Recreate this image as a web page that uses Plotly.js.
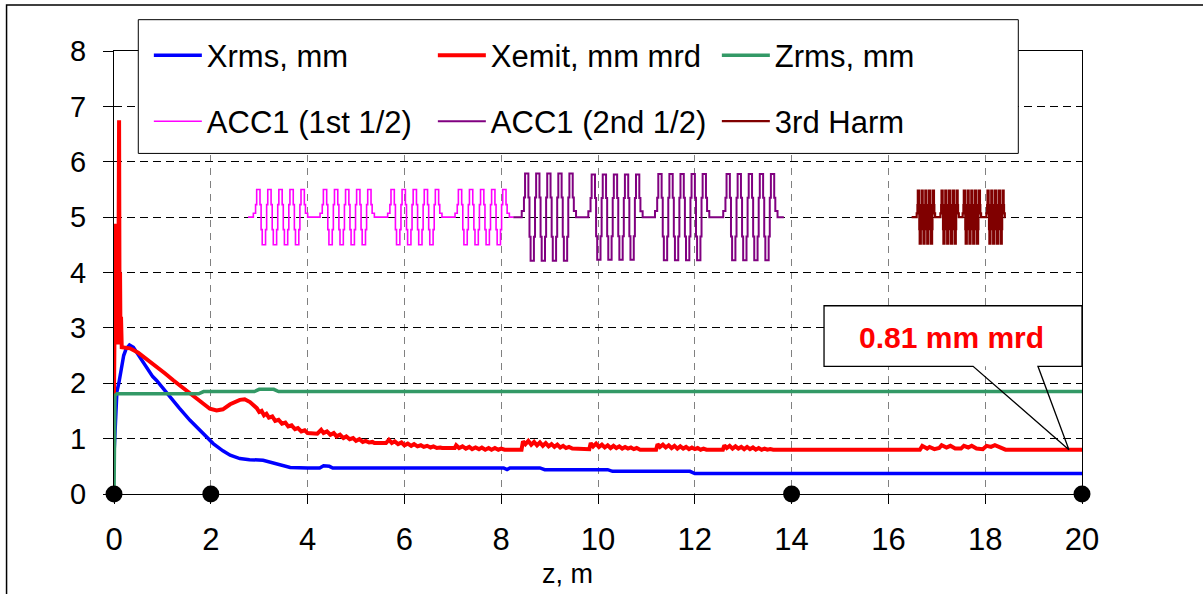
<!DOCTYPE html>
<html>
<head>
<meta charset="utf-8">
<script src="https://cdn.plot.ly/plotly-3.0.1.min.js"></script>
<style>html,body{margin:0;padding:0;background:#fff;}#chart{width:1203px;height:594px;}</style>
</head>
<body>
<div id="chart"></div>
<script>
// ---------- data ----------
var xrmsZ = [0.0, 0.03, 0.06, 0.1, 0.15, 0.2, 0.25, 0.32, 0.4, 0.5, 0.65, 0.8, 0.88, 1.0, 1.16, 1.35, 1.57, 1.8, 2.05, 2.25, 2.4, 2.6, 2.8, 3.08, 3.3, 3.5, 3.64, 4.0, 4.25, 4.33, 4.45, 4.52, 8.05, 8.12, 8.18, 8.8, 8.9, 10.2, 10.3, 11.9, 12.0, 20.0];
var xrmsY = [0.72, 1.3, 1.85, 2.0, 2.25, 2.5, 2.62, 2.69, 2.65, 2.52, 2.32, 2.12, 2.05, 1.92, 1.75, 1.55, 1.33, 1.12, 0.91, 0.78, 0.70, 0.64, 0.62, 0.61, 0.56, 0.50, 0.48, 0.47, 0.47, 0.51, 0.50, 0.47, 0.47, 0.44, 0.47, 0.47, 0.44, 0.44, 0.41, 0.41, 0.37, 0.37];

var xemitZ = [0, 0.005, 0.02, 0.03, 0.045, 0.055, 0.065, 0.075, 0.085, 0.095, 0.105, 0.115, 0.125, 0.135, 0.145, 0.16,
  0.33, 0.5, 0.7, 0.88, 1.05, 1.23, 1.4, 1.57, 1.78, 1.98, 2.12, 2.25, 2.4, 2.6, 2.7, 2.81,
  2.95, 3.0, 3.05, 3.1, 3.15, 3.2, 3.27, 3.33, 3.4, 3.47, 3.54, 3.6, 3.67, 3.74, 3.8, 3.87, 3.94, 4.0, 4.2,
  4.28, 4.33, 4.4, 4.47, 4.54, 4.6, 4.67, 4.74, 4.8, 4.87, 4.94, 5.0, 5.07, 5.14, 5.2, 5.27, 5.34, 5.38, 5.62,
  5.68, 5.74, 5.8, 5.87, 5.94, 6.0, 6.07, 6.14, 6.2, 6.27, 6.34, 6.4, 6.47, 6.54, 6.6, 6.67, 6.74, 6.78, 7.04,
  7.07, 7.13, 7.2, 7.27, 7.34, 7.4, 7.47, 7.54, 7.6, 7.67, 7.74, 7.8, 7.87, 7.94, 8.0, 8.07, 8.14, 8.18, 8.42,
  8.45, 8.5, 8.56, 8.62, 8.68, 8.74, 8.8, 8.86, 8.92, 8.98, 9.04, 9.1, 9.16, 9.22, 9.28, 9.34, 9.4, 9.47, 9.82,
  9.85, 9.9, 9.96, 10.02, 10.08, 10.14, 10.2, 10.26, 10.32, 10.38, 10.44, 10.5, 10.56, 10.62, 10.68, 10.74, 10.8, 10.87, 11.2,
  11.23, 11.28, 11.34, 11.4, 11.46, 11.52, 11.58, 11.64, 11.7, 11.76, 11.82, 11.88, 11.94, 12.0, 12.06, 12.12, 12.18, 12.24, 12.58,
  12.61, 12.66, 12.72, 12.78, 12.84, 12.9, 12.96, 13.02, 13.08, 13.14, 13.2, 13.26, 13.32, 13.38, 13.44, 13.5, 13.56, 13.62, 16.65,
  16.7, 16.8, 16.85, 16.95, 17.05, 17.1, 17.2, 17.28, 17.38, 17.5, 17.56, 17.65, 17.72, 17.82, 17.95, 18.03, 18.12, 18.2, 18.3, 18.38, 18.42, 20.0];
var xemitY = [1.8, 2.6, 4.85, 4.88, 2.7, 4.5, 2.8, 4.3, 2.7, 4.6, 6.75, 2.9, 4.0, 2.7, 3.2, 2.65,
  2.63, 2.55, 2.42, 2.29, 2.18, 2.05, 1.93, 1.81, 1.66, 1.54, 1.51, 1.53, 1.62, 1.70, 1.71, 1.66,
  1.55, 1.48, 1.50, 1.42, 1.45, 1.38, 1.40, 1.32, 1.34, 1.27, 1.29, 1.22, 1.24, 1.17, 1.19, 1.13, 1.15, 1.10, 1.09,
  1.16, 1.10, 1.13, 1.07, 1.10, 1.04, 1.07, 1.01, 1.04, 0.99, 1.01, 0.96, 0.99, 0.94, 0.96, 0.93, 0.94, 0.92, 0.92,
  0.98, 0.92, 0.95, 0.90, 0.93, 0.88, 0.91, 0.87, 0.90, 0.86, 0.88, 0.85, 0.87, 0.84, 0.86, 0.83, 0.84, 0.83, 0.83,
  0.88, 0.83, 0.86, 0.82, 0.85, 0.81, 0.84, 0.81, 0.84, 0.80, 0.83, 0.80, 0.83, 0.80, 0.82, 0.80, 0.81, 0.80, 0.80,
  0.95, 0.90, 0.96, 0.89, 0.94, 0.88, 0.93, 0.87, 0.92, 0.86, 0.90, 0.85, 0.89, 0.84, 0.87, 0.83, 0.85, 0.82, 0.81,
  0.92, 0.86, 0.91, 0.85, 0.89, 0.84, 0.88, 0.83, 0.87, 0.83, 0.86, 0.82, 0.85, 0.82, 0.84, 0.81, 0.83, 0.80, 0.80,
  0.90, 0.85, 0.89, 0.84, 0.88, 0.83, 0.87, 0.82, 0.86, 0.82, 0.85, 0.81, 0.84, 0.81, 0.83, 0.80, 0.82, 0.80, 0.80,
  0.88, 0.83, 0.87, 0.82, 0.86, 0.82, 0.85, 0.81, 0.85, 0.81, 0.84, 0.80, 0.83, 0.80, 0.82, 0.80, 0.81, 0.80, 0.80,
  0.87, 0.82, 0.85, 0.81, 0.83, 0.88, 0.84, 0.87, 0.82, 0.82, 0.87, 0.84, 0.87, 0.82, 0.81, 0.87, 0.85, 0.88, 0.84, 0.81, 0.80, 0.80];

var zrmsZ = [0, 0.02, 0.06, 1.75, 1.85, 2.9, 3.0, 3.3, 3.4, 20.0];
var zrmsY = [0, 1.78, 1.81, 1.81, 1.85, 1.85, 1.89, 1.89, 1.85, 1.85];

// one 9-cell cavity field profile (offsets in half-cell units, normalised field)
var cavOff = [-1.0, -0.4, 0, 0.2, 0.8, 1, 1.2, 1.8, 2, 2.2, 2.8, 3, 3.2, 3.8, 4, 4.2, 4.8, 5, 5.2, 5.8, 6, 6.2, 6.8, 7, 7.2, 7.8, 8, 8.2, 8.8, 9, 9.4];
var cavVal = [0, 0.14, 0.45, 1, 0.45, -0.45, -1, -0.45, 0.45, 1, 0.45, -0.45, -1, -0.45, 0.45, 1, 0.45, -0.45, -1, -0.45, 0.45, 1, 0.45, -0.45, -1, -0.45, 0.45, 1, 0.45, 0.14, 0];

var acc1aStarts = [2.925, 4.303, 5.70, 7.092];
var acc1aAmps   = [0.50, 0.50, 0.50, 0.50];
var acc1bStarts = [8.47, 9.846, 11.223, 12.633];
var acc1bAmps   = [0.79, 0.77, 0.78, 0.78];
var harmStarts  = [16.60, 17.09, 17.55, 18.04];
var harmAmps    = [0.48, 0.48, 0.48, 0.48];
var cellAcc1 = 0.1145, cellHarm = 0.0388, fieldBase = 5;
var acc1aRange = [2.77, 8.25], acc1bRange = [8.25, 13.84], harmRange = [16.48, 18.42];

var markerZ = [0, 2, 14, 20];
var markerY = [0, 0, 0, 0];

var seriesNames = ['Xrms, mm', 'Xemit, mm mrd', 'Zrms, mm', 'ACC1 (1st 1/2)', 'ACC1 (2nd 1/2)', '3rd Harm'];
var xTitle = 'z, m';
var calloutText = '0.81 mm mrd';

// ---------- build ----------
function buildField(starts, amps, cell, range) {
  var x = [range[0]], y = [fieldBase];
  for (var c = 0; c < starts.length; c++) {
    for (var i = 0; i < cavOff.length; i++) {
      x.push(starts[c] + cavOff[i] * cell);
      y.push(fieldBase + amps[c] * cavVal[i]);
    }
  }
  x.push(range[1]); y.push(fieldBase);
  return {x: x, y: y};
}
var fa = buildField(acc1aStarts, acc1aAmps, cellAcc1, acc1aRange);
var fb = buildField(acc1bStarts, acc1bAmps, cellAcc1, acc1bRange);
var fh = buildField(harmStarts, harmAmps, cellHarm, harmRange);

var FONT = 'Liberation Sans, Arial, Helvetica, sans-serif';

var traces = [
  {x: xrmsZ, y: xrmsY, name: seriesNames[0], mode: 'lines', line: {color: '#0000FF', width: 3.5}, legend: 'legend'},
  {x: xemitZ, y: xemitY, name: seriesNames[1], mode: 'lines', line: {color: '#FF0000', width: 4}, legend: 'legend'},
  {x: zrmsZ, y: zrmsY, name: seriesNames[2], mode: 'lines', line: {color: '#339966', width: 3.5}, legend: 'legend'},
  {x: fa.x, y: fa.y, name: seriesNames[3], mode: 'lines', line: {color: '#FF00FF', width: 1.6, shape: 'hv'}, legend: 'legend2'},
  {x: fb.x, y: fb.y, name: seriesNames[4], mode: 'lines', line: {color: '#800080', width: 2, shape: 'hv'}, legend: 'legend2'},
  {x: fh.x, y: fh.y, name: seriesNames[5], mode: 'lines', line: {color: '#800000', width: 2.2, shape: 'hv'}, legend: 'legend2'},
  {x: markerZ, y: markerY, mode: 'markers', marker: {color: '#000000', size: 17}, showlegend: false, cliponaxis: false}
];

var legendCommon = {
  orientation: 'h', xanchor: 'left', yanchor: 'top',
  bgcolor: 'rgba(0,0,0,0)', borderwidth: 0,
  font: {family: FONT, size: 31, color: '#000'},
  entrywidth: 221, entrywidthmode: 'pixels', itemwidth: 48
};

var layout = {
  width: 1203, height: 594,
  margin: {l: 114, r: 121, t: 51, b: 100, pad: 0},
  paper_bgcolor: '#ffffff', plot_bgcolor: '#ffffff',
  font: {family: FONT, color: '#000'},
  showlegend: true,
  legend: Object.assign({x: 0.036, y: 1.0508}, legendCommon),
  legend2: Object.assign({x: 0.036, y: 0.9017}, legendCommon),
  xaxis: {
    range: [0, 20], tick0: 0, dtick: 2, autorange: false,
    showgrid: true, gridcolor: '#808080', griddash: '7px,6px', gridwidth: 1,
    showline: true, linecolor: '#000', linewidth: 1, mirror: true,
    ticks: 'outside', ticklen: 9, tickcolor: '#000', zeroline: false,
    ticklabelstandoff: 9,
    tickfont: {family: FONT, size: 31, color: '#000'}
  },
  yaxis: {
    range: [0, 8], tick0: 0, dtick: 1, autorange: false,
    showgrid: true, gridcolor: '#000000', griddash: '8px,5px', gridwidth: 1,
    showline: true, linecolor: '#000', linewidth: 1, mirror: true,
    ticks: 'outside', ticklen: 10, tickcolor: '#000', zeroline: false,
    ticklabelstandoff: 11,
    tickfont: {family: FONT, size: 29, color: '#000'}
  },
  shapes: [
    // outer chart frame
    {type: 'rect', xref: 'paper', yref: 'paper', x0: -0.111, x1: 1.2, y0: -0.3, y1: 1.104,
     line: {color: '#000', width: 1.5}, fillcolor: 'rgba(0,0,0,0)', layer: 'above'},
    // legend box
    {type: 'rect', xref: 'paper', yref: 'paper', x0: 0.0251, x1: 0.9342, y0: 0.7688, y1: 1.0707,
     line: {color: '#000', width: 1}, fillcolor: '#ffffff', layer: 'above'},
    // callout box fill
    {type: 'rect', xref: 'x', yref: 'y', x0: 14.67, x1: 20.0, y0: 2.306, y1: 3.40,
     line: {width: 0}, fillcolor: '#ffffff', layer: 'above'},
    // callout outline with pointer
    {type: 'path', xref: 'x', yref: 'y',
     path: 'M19.09,2.306 L20,2.306 L20,3.40 L14.67,3.40 L14.67,2.306 L17.75,2.306 L19.73,0.80 Z',
     line: {color: '#000', width: 1.3}, fillcolor: 'rgba(0,0,0,0)', layer: 'above'}
  ],
  annotations: [
    {x: 17.31, y: 2.83, xref: 'x', yref: 'y', text: '<b>' + calloutText + '</b>', showarrow: false,
     font: {family: FONT, size: 30, color: '#FF0000'}},
    {x: 0.468, y: -0.18, xref: 'paper', yref: 'paper', text: xTitle, showarrow: false,
     xanchor: 'center', yanchor: 'middle', font: {family: FONT, size: 27, color: '#000'}}
  ]
};

Plotly.newPlot('chart', traces, layout, {staticPlot: true, displayModeBar: false});
</script>
</body>
</html>
